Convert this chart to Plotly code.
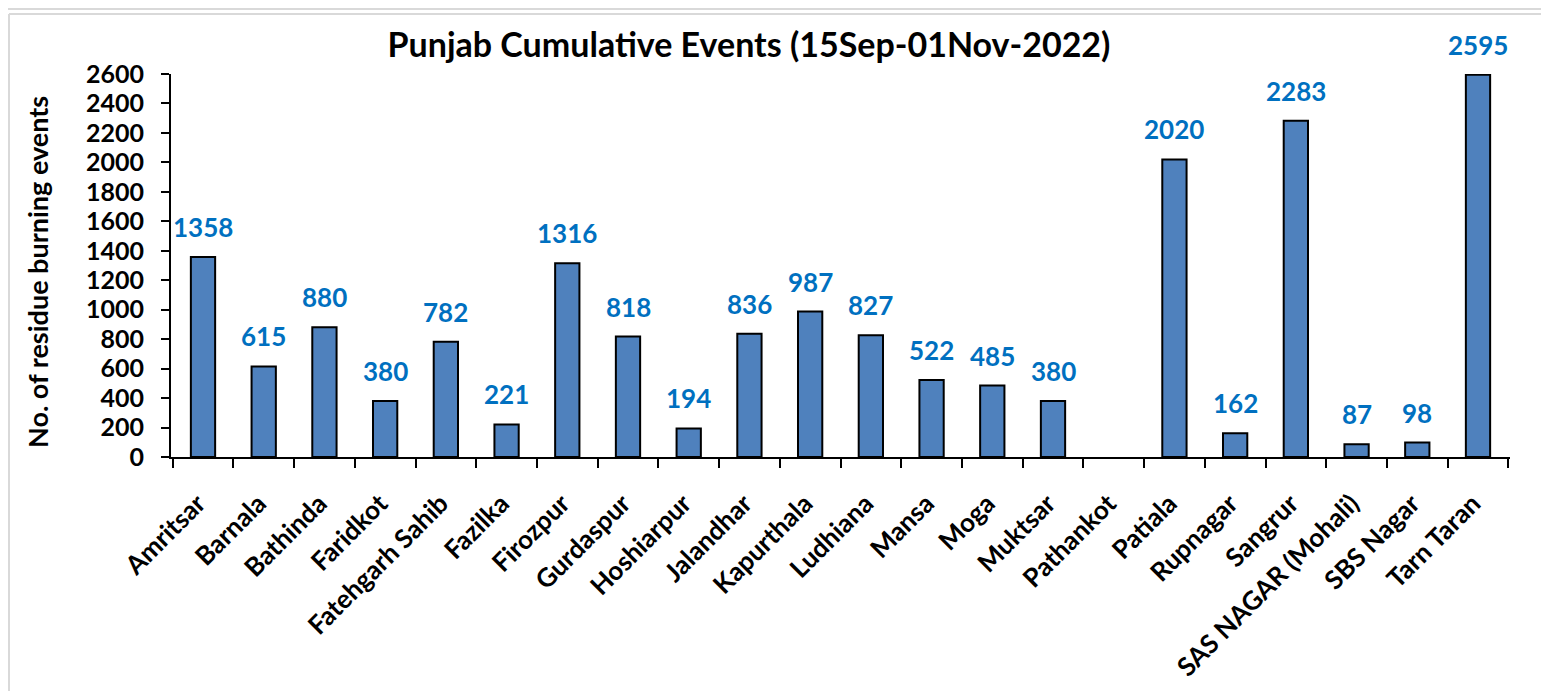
import plotly.graph_objects as go

districts = [
    "Amritsar", "Barnala", "Bathinda", "Faridkot", "Fatehgarh Sahib", "Fazilka",
    "Firozpur", "Gurdaspur", "Hoshiarpur", "Jalandhar", "Kapurthala", "Ludhiana",
    "Mansa", "Moga", "Muktsar", "Pathankot", "Patiala", "Rupnagar", "Sangrur",
    "SAS NAGAR (Mohali)", "SBS Nagar", "Tarn Taran",
]
events = [1358, 615, 880, 380, 782, 221, 1316, 818, 194, 836, 987, 827,
          522, 485, 380, 0, 2020, 162, 2283, 87, 98, 2595]
y_ticks = list(range(0, 2601, 200))

FONT = "Lato"
# the page body has an 8px margin, so the figure is a bit smaller than the window
OFF = 8
W, H = 1549 - OFF, 691 - OFF
L, R, T, B = 163, 39, 66, 234
plot_w = W - L - R
plot_h = H - T - B


def px_x(px):
    # px is in window pixels
    return (px - OFF - L) / plot_w


def px_y(py):
    return (H - B - (py - OFF)) / plot_h


fig = go.Figure()
fig.add_trace(
    go.Bar(
        x=districts,
        y=events,
        marker=dict(
            color="#4F81BD",
            line=dict(color="black", width=[2 if v > 0 else 0 for v in events]),
        ),
        hoverinfo="x+y",
        showlegend=False,
    )
)

# data labels above the bars (Pathankot has none)
for name, val in zip(districts, events):
    if val <= 0:
        continue
    fig.add_annotation(
        x=name, y=val, text=str(val), showarrow=False,
        yanchor="bottom", yshift=12,
        font=dict(family=FONT, size=26, color="#0070C0", weight="bold"),
    )

# y axis title
fig.add_annotation(
    xref="paper", yref="paper", x=px_x(37), y=px_y(272),
    text="No. of residue burning events", textangle=-90, showarrow=False,
    xanchor="center", yanchor="middle",
    font=dict(family=FONT, size=27, color="black", weight="bold"),
)

# outer frame lines
frame = dict(color="#D9D9D9", width=2)
fig.add_shape(type="line", xref="paper", yref="paper",
              x0=px_x(8), x1=px_x(1549), y0=px_y(9), y1=px_y(9), line=frame)
fig.add_shape(type="line", xref="paper", yref="paper",
              x0=px_x(9), x1=px_x(1549), y0=px_y(14), y1=px_y(14), line=frame)
fig.add_shape(type="line", xref="paper", yref="paper",
              x0=px_x(9), x1=px_x(9), y0=px_y(14), y1=px_y(691), line=frame)

fig.update_layout(
    width=W, height=H,
    margin=dict(l=L, r=R, t=T, b=B),
    paper_bgcolor="white", plot_bgcolor="white",
    bargap=0.6,
    title=dict(
        text="Punjab Cumulative Events (15Sep-01Nov-2022)",
        x=(749 - OFF) / W, xanchor="center", xref="container",
        y=1 - (45 - OFF) / H, yanchor="middle",
        font=dict(family=FONT, size=34, color="black", weight="bold"),
    ),
    xaxis=dict(
        showline=True, linecolor="black", linewidth=2,
        ticks="outside", ticklen=9, tickwidth=2, tickcolor="black",
        tickson="boundaries", tickangle=-45, automargin=False,
        ticklabelstandoff=19, ticklabelshift=-5,
        tickfont=dict(family=FONT, size=26, color="black", weight="bold"),
        showgrid=False,
    ),
    yaxis=dict(
        range=[0, 2600], tickvals=y_ticks, automargin=False,
        showline=True, linecolor="black", linewidth=2,
        ticks="outside", ticklen=8, tickwidth=2, tickcolor="black",
        ticklabelstandoff=12,
        tickfont=dict(family=FONT, size=25, color="black", weight="bold"),
        showgrid=False, zeroline=False,
    ),
)

fig.write_html("out.html")
